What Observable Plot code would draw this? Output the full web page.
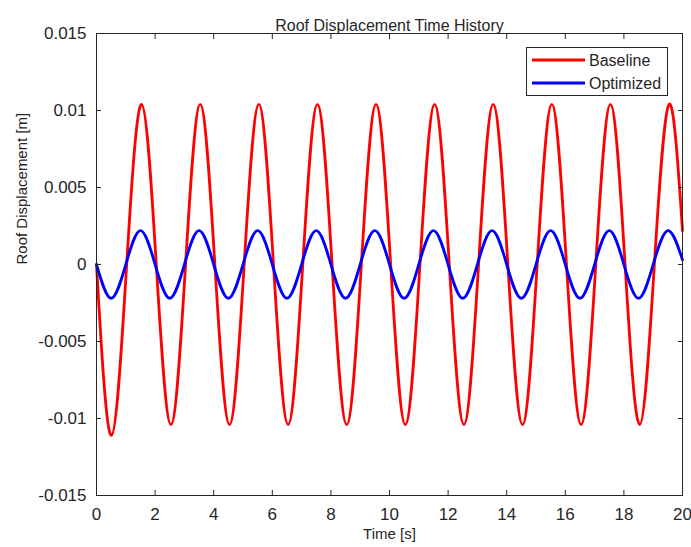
<!DOCTYPE html>
<html><head><meta charset="utf-8">
<script src="https://cdn.jsdelivr.net/npm/d3@7"></script>
<script src="https://cdn.jsdelivr.net/npm/@observablehq/plot@0.6"></script>
<style>
body{margin:0;background:#fff;}
svg{font-family:"Liberation Sans",Arial,Helvetica,sans-serif;}
</style>
</head><body><div id="chart"></div>
<script>
// Baseline: read at zero crossings and extrema (s, m)
const baselineTime = [0, 0.51, 1.03, 1.54,
  2.04, 2.54, 3.04, 3.54, 4.04, 4.54, 5.04, 5.54, 6.04, 6.54, 7.04, 7.54,
  8.04, 8.54, 9.04, 9.54, 10.04, 10.54, 11.04, 11.54, 12.04, 12.54, 13.04, 13.54,
  14.04, 14.54, 15.04, 15.54, 16.04, 16.54, 17.04, 17.54, 18.04, 18.54, 19.04, 19.54, 20];
const baselineDisp = [0, -0.0111, 0, 0.0104,
  0, -0.0104, 0, 0.0104, 0, -0.0104, 0, 0.0104, 0, -0.0104, 0, 0.0104,
  0, -0.0104, 0, 0.0104, 0, -0.0104, 0, 0.0104, 0, -0.0104, 0, 0.0104,
  0, -0.0104, 0, 0.0104, 0, -0.0104, 0, 0.0104, 0, -0.0104, 0, 0.0104, 0.0022];
// Optimized
const optimizedTime = [0, 0.5, 1, 1.5, 2, 2.5, 3, 3.5, 4, 4.5, 5, 5.5, 6, 6.5, 7, 7.5,
  8, 8.5, 9, 9.5, 10, 10.5, 11, 11.5, 12, 12.5, 13, 13.5, 14, 14.5, 15, 15.5,
  16, 16.5, 17, 17.5, 18, 18.5, 19, 19.5, 20];
const optimizedDisp = [0, -0.0022, 0, 0.0022, 0, -0.0022, 0, 0.0022, 0, -0.0022, 0, 0.0022,
  0, -0.0022, 0, 0.0022, 0, -0.0022, 0, 0.0022, 0, -0.0022, 0, 0.0022,
  0, -0.0022, 0, 0.0022, 0, -0.0022, 0, 0.0022, 0, -0.0022, 0, 0.0022,
  0, -0.0022, 0, 0.0022, 0.0003];

const seriesNames = ["Baseline", "Optimized"];
const seriesColors = ["#ff0000", "#0000ff"];
const xTicks = [0, 2, 4, 6, 8, 10, 12, 14, 16, 18, 20];
const yTicks = [-0.015, -0.01, -0.005, 0, 0.005, 0.01, 0.015];
const titleText = "Roof Displacement Time History";
const xLabel = "Time [s]";
const yLabel = "Roof Displacement [m]";

const rows = [
  ...baselineTime.map((t, i) => ({series: seriesNames[0], t, d: baselineDisp[i]})),
  ...optimizedTime.map((t, i) => ({series: seriesNames[1], t, d: optimizedDisp[i]}))
];

const ink = "#262626";
const fmtY = d => d === 0 ? "0" : String(+d.toFixed(3));

const plot = Plot.plot({
  width: 691, height: 547,
  marginLeft: 96, marginRight: 9, marginTop: 33, marginBottom: 52,
  style: {fontFamily: '"Liberation Sans", Arial, sans-serif', color: ink, background: "#fff", overflow: "visible"},
  x: {domain: [0, 20]},
  y: {domain: [-0.015, 0.015]},
  color: {domain: seriesNames, range: seriesColors},
  marks: [
    Plot.line(rows, {x: "t", y: "d", z: "series", stroke: "series", strokeWidth: 2.8, curve: "natural"}),
    Plot.frame({stroke: ink, strokeWidth: 1}),
    Plot.axisX(xTicks, {anchor: "bottom", tickSize: -5, tickPadding: 17, fontSize: 17, tickFormat: d => String(d), label: null}),
    Plot.axisX(xTicks, {anchor: "top", tickSize: -5, tickFormat: () => "", label: null}),
    Plot.axisY(yTicks, {anchor: "left", tickSize: -5, tickPadding: 15, fontSize: 17, tickFormat: fmtY, label: null}),
    Plot.axisY(yTicks, {anchor: "right", tickSize: -5, tickFormat: () => "", label: null}),
    Plot.text([titleText], {frameAnchor: "top", dy: -14, fontSize: 16, fill: ink}),
    Plot.text([xLabel], {frameAnchor: "bottom", dy: 43, fontSize: 15, fill: ink}),
    Plot.text([yLabel], {frameAnchor: "left", dx: -74, rotate: -90, fontSize: 15, fill: ink})
  ]
});

// Legend (MATLAB-style, upper right inside the axes)
const svgSel = d3.select(plot);
const xr = plot.scale("x").range, yr = plot.scale("y").range;
const frameRight = Math.max(...xr), frameTop = Math.min(...yr);
const lg = svgSel.append("g");
lg.append("rect").attr("x", frameRight - 155.5).attr("y", frameTop + 14.5).attr("width", 141).attr("height", 48)
  .attr("fill", "#fff").attr("stroke", ink).attr("stroke-width", 1);
seriesNames.forEach((name, i) => {
  const yy = frameTop + 27 + i * 23;
  lg.append("line").attr("x1", frameRight - 150).attr("x2", frameRight - 97).attr("y1", yy).attr("y2", yy)
    .attr("stroke", seriesColors[i]).attr("stroke-width", 2.8);
  lg.append("text").attr("x", frameRight - 93).attr("y", yy).attr("dy", "0.35em")
    .attr("text-anchor", "start").attr("font-size", 16).attr("fill", ink).text(name);
});

document.getElementById("chart").appendChild(plot);
</script>
</body></html>
